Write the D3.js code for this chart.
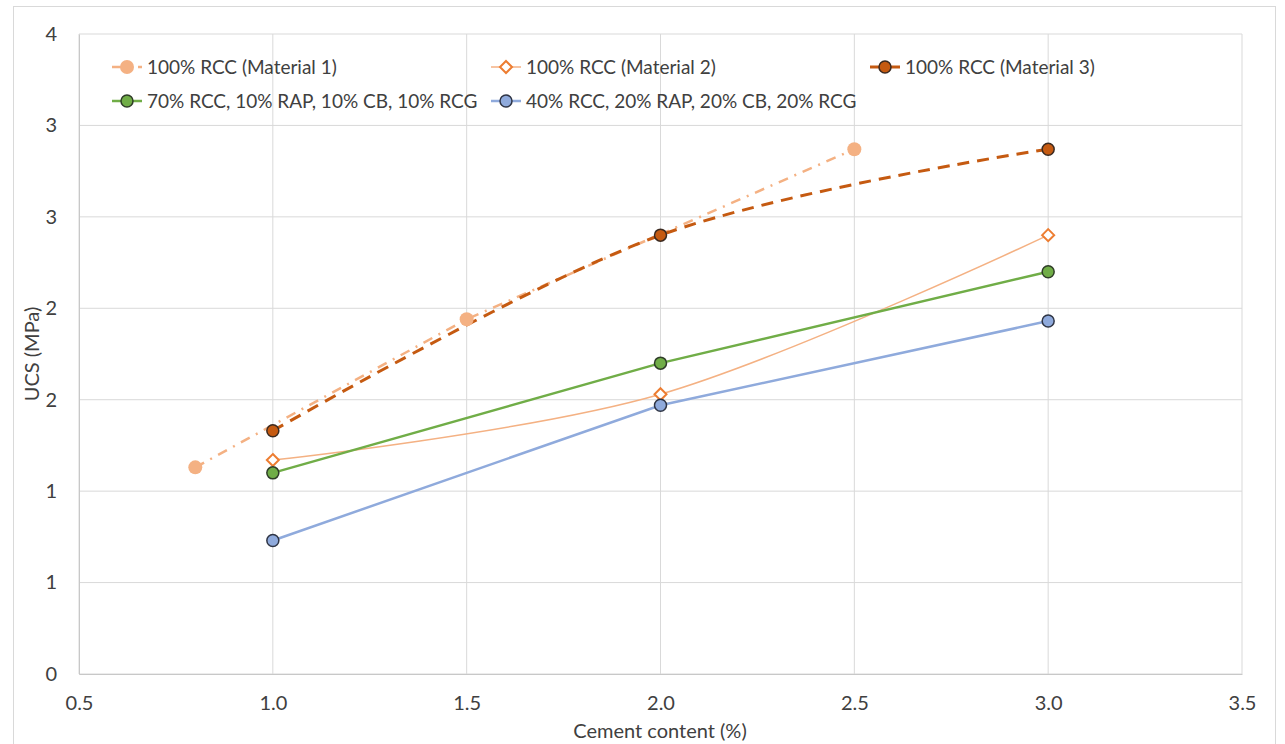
<!DOCTYPE html>
<html>
<head>
<meta charset="utf-8">
<script src="https://cdn.jsdelivr.net/npm/d3@7"></script>
<style>
  body { margin: 0; background: #fff; }
  svg text { font-family: Lato, "Open Sans", sans-serif; fill: #404040; }
</style>
</head>
<body>
<div id="chart"></div>
<script>
// values
const xTicks = [0.5, 1.0, 1.5, 2.0, 2.5, 3.0, 3.5];
const yTicks = [0, 0.5, 1, 1.5, 2, 2.5, 3, 3.5];
const yTickLabels = ["0", "1", "1", "2", "2", "3", "3", "4"];

const mat1X = [0.8, 1.5, 2.5];
const mat1Y = [1.13, 1.94, 2.87];
const mat2X = [1.0, 2.0, 3.0];
const mat2Y = [1.17, 1.53, 2.40];
const mat3X = [1.0, 2.0, 3.0];
const mat3Y = [1.33, 2.40, 2.87];
const greenX = [1.0, 2.0, 3.0];
const greenY = [1.10, 1.70, 2.20];
const blueX = [1.0, 2.0, 3.0];
const blueY = [0.73, 1.47, 1.93];

const seriesNames = [
  "100% RCC (Material 1)",
  "100% RCC (Material 2)",
  "100% RCC (Material 3)",
  "70% RCC, 10% RAP, 10% CB, 10% RCG",
  "40% RCC, 20% RAP, 20% CB, 20% RCG"
];

const width = 1285, height = 744;
const plot = { left: 79, right: 1242, top: 34, bottom: 674 };
const fontSize = 20;

const svg = d3.select("#chart").append("svg")
  .attr("width", width).attr("height", height);

// outer chart frame
svg.append("rect")
  .attr("x", 13.5).attr("y", 6.5)
  .attr("width", 1262).attr("height", 760)
  .attr("fill", "none").attr("stroke", "#d9d9d9");

const x = d3.scaleLinear().domain([0.5, 3.5]).range([plot.left, plot.right]);
const y = d3.scaleLinear().domain([0, 3.5]).range([plot.bottom, plot.top]);

// gridlines
svg.append("g")
  .selectAll("line").data(xTicks).join("line")
  .attr("x1", d => x(d)).attr("x2", d => x(d))
  .attr("y1", plot.top).attr("y2", plot.bottom)
  .attr("stroke", "#d9d9d9").attr("stroke-width", 1);
svg.append("g")
  .selectAll("line").data(yTicks).join("line")
  .attr("x1", plot.left).attr("x2", plot.right)
  .attr("y1", d => y(d)).attr("y2", d => y(d))
  .attr("stroke", "#d9d9d9").attr("stroke-width", 1);

// axes
const xAxis = svg.append("g")
  .attr("transform", `translate(0,${plot.bottom})`)
  .call(d3.axisBottom(x).tickValues(xTicks).tickFormat(d3.format(".1f")).tickSize(0).tickPadding(22));
const yAxis = svg.append("g")
  .attr("transform", `translate(${plot.left},0)`)
  .call(d3.axisLeft(y).tickValues(yTicks).tickFormat((d, i) => yTickLabels[i]).tickSize(0).tickPadding(22));
[xAxis, yAxis].forEach(a => {
  a.select(".domain").attr("stroke", "#c8c8c8");
  a.selectAll("text").attr("font-size", fontSize).attr("fill", "#404040")
    .attr("font-family", "Lato, 'Open Sans', sans-serif");
});

svg.append("text")
  .attr("x", 660).attr("y", 738)
  .attr("text-anchor", "middle").attr("font-size", fontSize)
  .text("Cement content (%)");
svg.append("text")
  .attr("transform", `translate(39,${(plot.top + plot.bottom) / 2}) rotate(-90)`)
  .attr("text-anchor", "middle").attr("font-size", fontSize)
  .text("UCS (MPa)");

// series definitions
const series = [
  { name: seriesNames[0], xs: mat1X, ys: mat1Y, color: "#f4b183", width: 2.5, dash: "10,7,2,7",
    curve: d3.curveLinear, marker: "circle", r: 7, fill: "#f4b183", stroke: "none" },
  { name: seriesNames[1], xs: mat2X, ys: mat2Y, color: "#f4b183", width: 1.5, dash: null,
    curve: d3.curveCardinal.tension(0), marker: "diamond", r: 7, fill: "#fff", stroke: "#ed7d31" },
  { name: seriesNames[2], xs: mat3X, ys: mat3Y, color: "#c55a11", width: 3, dash: "12,8",
    curve: d3.curveCardinal.tension(0), marker: "circle", r: 6, fill: "#c55a11", stroke: "#3b2a20" },
  { name: seriesNames[3], xs: greenX, ys: greenY, color: "#70ad47", width: 2.5, dash: null,
    curve: d3.curveLinear, marker: "circle", r: 6, fill: "#70ad47", stroke: "#2f3d28" },
  { name: seriesNames[4], xs: blueX, ys: blueY, color: "#8faadc", width: 2.5, dash: null,
    curve: d3.curveLinear, marker: "circle", r: 6, fill: "#8faadc", stroke: "#2f3545" }
];

function drawMarker(g, s, cx, cy) {
  if (s.marker === "diamond") {
    const h = s.r - 1;
    g.append("path")
      .attr("d", `M${cx},${cy - h}L${cx + h},${cy}L${cx},${cy + h}L${cx - h},${cy}Z`)
      .attr("fill", s.fill).attr("stroke", s.stroke).attr("stroke-width", 2);
  } else {
    g.append("circle")
      .attr("cx", cx).attr("cy", cy).attr("r", s.r)
      .attr("fill", s.fill)
      .attr("stroke", s.stroke).attr("stroke-width", s.stroke === "none" ? 0 : 1.5);
  }
}

const linesG = svg.append("g");
const marksG = svg.append("g");
series.forEach(s => {
  const pts = s.xs.map((v, i) => [v, s.ys[i]]);
  const line = d3.line().x(d => x(d[0])).y(d => y(d[1])).curve(s.curve);
  linesG.append("path")
    .attr("d", line(pts))
    .attr("fill", "none")
    .attr("stroke", s.color)
    .attr("stroke-width", s.width)
    .attr("stroke-dasharray", s.dash);
  pts.forEach(p => drawMarker(marksG, s, x(p[0]), y(p[1])));
});

// legend
const legendCols = [127, 506, 885];
const legendRows = [67, 101];
const legend = svg.append("g");
series.forEach((s, i) => {
  const cx = legendCols[i % 3];
  const cy = legendRows[Math.floor(i / 3)];
  legend.append("line")
    .attr("x1", cx - 15).attr("x2", cx + 15)
    .attr("y1", cy).attr("y2", cy)
    .attr("stroke", s.color).attr("stroke-width", s.width)
    .attr("stroke-dasharray", s.dash);
  drawMarker(legend, s, cx, cy);
  legend.append("text")
    .attr("x", cx + 20).attr("y", cy)
    .attr("dy", "0.35em").attr("font-size", 19)
    .text(s.name);
});
</script>
</body>
</html>
